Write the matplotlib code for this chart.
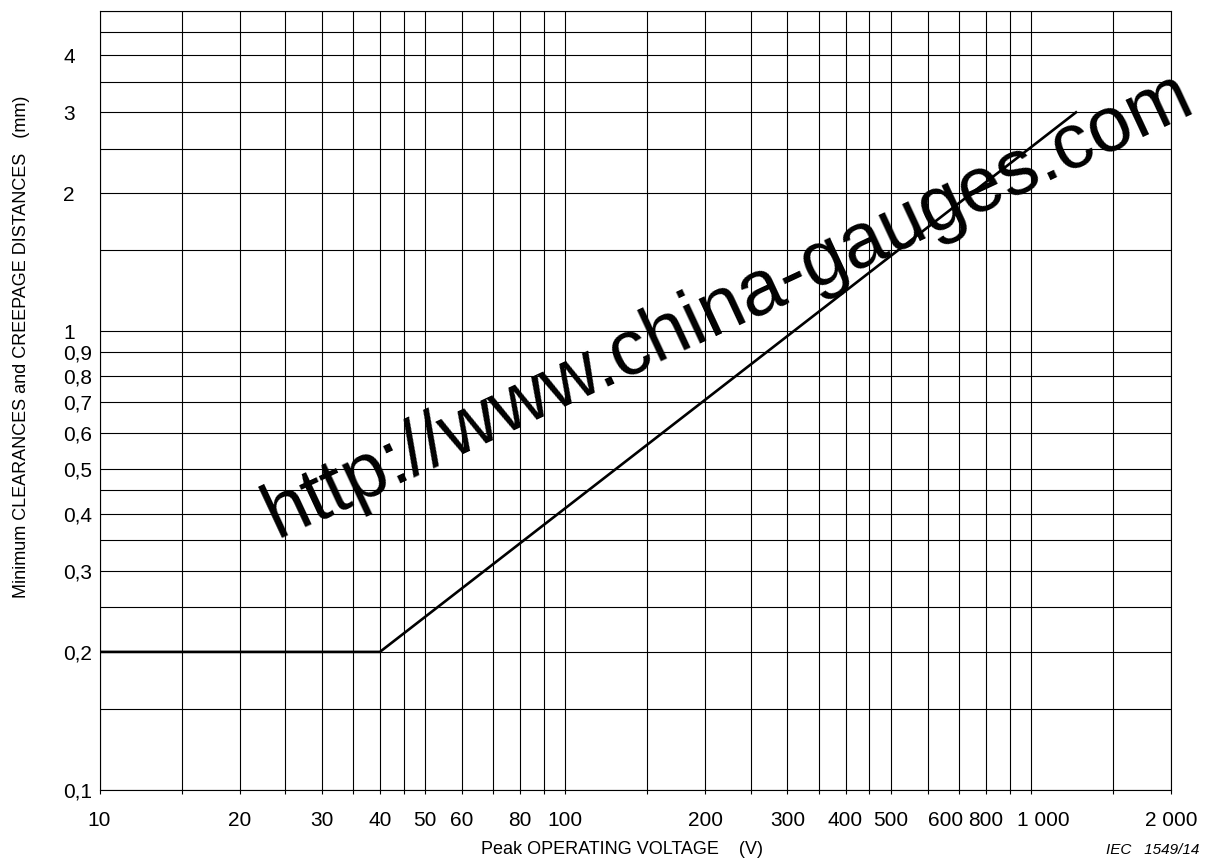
import numpy as np
import matplotlib
matplotlib.use("Agg")
import matplotlib.pyplot as plt
from matplotlib.transforms import ScaledTranslation

plt.rcParams['font.family'] = ['Liberation Sans', 'DejaVu Sans']

# curve: peak operating voltage (V) -> minimum distance (mm)
volts = [10, 40, 1250]
dist_mm = [0.2, 0.2, 3.0]

# grid lines
x_grid = [10, 15, 20, 25, 30, 35, 40, 45, 50, 60, 70, 80, 90, 100,
          150, 200, 250, 300, 350, 400, 450, 500, 600, 700, 800, 900,
          1000, 1500, 2000]
y_grid = [0.1, 0.15, 0.2, 0.25, 0.3, 0.35, 0.4, 0.45, 0.5, 0.6, 0.7,
          0.8, 0.9, 1, 1.5, 2, 2.5, 3, 3.5, 4, 4.5, 5]

# labelled ticks
x_ticks = [10, 20, 30, 40, 50, 60, 80, 100, 200, 300, 400, 500, 600, 800,
           1000, 2000]
x_labels = ['10', '20', '30', '40', '50', '60', '80', '100', '200', '300',
            '400', '500', '600', '800', '1 000', '2 000']
y_ticks = [0.1, 0.2, 0.3, 0.4, 0.5, 0.6, 0.7, 0.8, 0.9, 1, 2, 3, 4]
y_labels = ['0,1', '0,2', '0,3', '0,4', '0,5', '0,6', '0,7', '0,8', '0,9',
            '1', '2', '3', '4']

fig = plt.figure(figsize=(12.08, 8.67), dpi=100)
ax = fig.add_axes([0.0824, 0.0888, 0.887, 0.899])
ax.set_xscale('log')
ax.set_yscale('log')
ax.set_xlim(10, 2000)
ax.set_ylim(0.1, 5)

for xv in x_grid:
    ax.axvline(xv, color='black', lw=0.8, zorder=1)
for yv in y_grid:
    ax.axhline(yv, color='black', lw=0.8, zorder=1)

ax.plot(volts, dist_mm, color='black', lw=1.9, zorder=3)

ax.xaxis.set_minor_locator(plt.NullLocator())
ax.yaxis.set_minor_locator(plt.NullLocator())
ax.set_xticks(x_grid, minor=True)
ax.set_xticks(x_ticks)
ax.set_xticklabels(x_labels)
ax.set_yticks(y_ticks)
ax.set_yticklabels(y_labels)
ax.tick_params(axis='x', which='both', direction='out', length=3, width=0.8,
               labelsize=15, pad=12)
ax.tick_params(axis='x', which='minor', labelbottom=False)
ax.tick_params(axis='y', length=0, labelsize=15, pad=26)
for lab in ax.get_yticklabels():
    lab.set_horizontalalignment('left')

# the original sheet prints "600" and "1 000" a little right of their lines
nudge = {'600': 13, '1 000': 9}
for lab in ax.get_xticklabels():
    if lab.get_text() in nudge:
        dx = nudge[lab.get_text()] / 72
        lab.set_transform(lab.get_transform()
                          + ScaledTranslation(dx, 0, fig.dpi_scale_trans))

for sp in ax.spines.values():
    sp.set_linewidth(0.8)

fig.text(0.018, 0.60, 'Minimum CLEARANCES and CREEPAGE DISTANCES   (mm)',
         rotation=90, ha='center', va='center', fontsize=13)
fig.text(0.515, 0.020, 'Peak OPERATING VOLTAGE    (V)',
         ha='center', va='center', fontsize=13)
fig.text(0.993, 0.020, 'IEC   1549/14', ha='right', va='center',
         fontsize=11, style='italic')

# watermark
fig.text(0.603, 0.648, 'http://www.china-gauges.com', rotation=25,
         rotation_mode='anchor', ha='center', va='center', fontsize=56,
         color='black', zorder=5)

fig.savefig('out.png', dpi=100)
